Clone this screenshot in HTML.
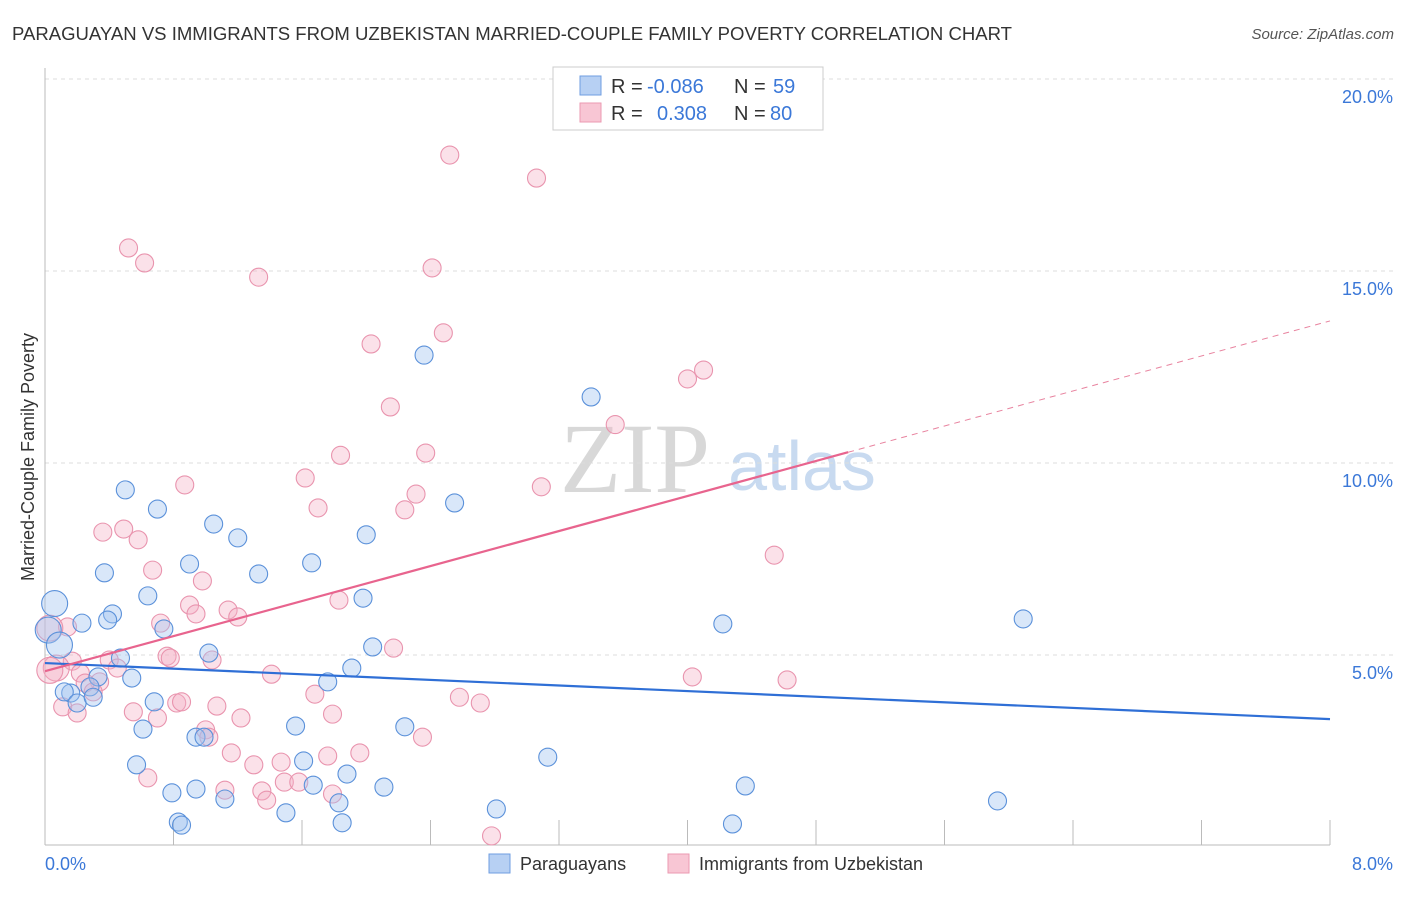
<!DOCTYPE html>
<html><head><meta charset="utf-8"><style>
body{margin:0;background:#fff;font-family:"Liberation Sans",sans-serif;}
</style></head><body>
<svg width="1406" height="892" xmlns="http://www.w3.org/2000/svg" font-family="Liberation Sans, sans-serif">
<text x="12" y="40" font-size="18" fill="#333" textLength="1000" lengthAdjust="spacingAndGlyphs">PARAGUAYAN VS IMMIGRANTS FROM UZBEKISTAN MARRIED-COUPLE FAMILY POVERTY CORRELATION CHART</text>
<text x="1394" y="39" font-size="15" fill="#555" text-anchor="end" font-style="italic">Source: ZipAtlas.com</text>
<text x="635" y="492" font-size="100" fill="#d8d8d8" text-anchor="middle" font-family="Liberation Serif, serif">ZIP</text>
<text x="802" y="490" font-size="70" fill="#c8daf0" text-anchor="middle">atlas</text>
<g id="grid"></g>
<g id="axes"></g>
<g id="marks"></g>
<text transform="translate(34,457) rotate(-90)" font-size="18" fill="#333" text-anchor="middle">Married-Couple Family Poverty</text>
<text x="45" y="870" font-size="18" fill="#3b78d8">0.0%</text>
<text x="1393" y="870" font-size="18" fill="#3b78d8" text-anchor="end">8.0%</text>
<g>
<rect x="553" y="67" width="270" height="63" fill="#fff" stroke="#ccc"/>
<rect x="580" y="76" width="21" height="19" fill="#b7d0f3" stroke="#6f9ee0"/>
<text y="93" font-size="20" fill="#333"><tspan x="611">R =</tspan><tspan x="647" fill="#3b78d8">-0.086</tspan><tspan x="734">N =</tspan><tspan x="773" fill="#3b78d8">59</tspan></text>
<rect x="580" y="103" width="21" height="19" fill="#f8c6d4" stroke="#eb9ab2"/>
<text y="120" font-size="20" fill="#333"><tspan x="611">R =</tspan><tspan x="657" fill="#3b78d8">0.308</tspan><tspan x="734">N =</tspan><tspan x="770" fill="#3b78d8">80</tspan></text>
</g>
<g>
<rect x="489" y="854" width="21" height="19" fill="#b7d0f3" stroke="#6f9ee0"/>
<text x="520" y="870" font-size="18" fill="#333">Paraguayans</text>
<rect x="668" y="854" width="21" height="19" fill="#f8c6d4" stroke="#eb9ab2"/>
<text x="699" y="870" font-size="18" fill="#333">Immigrants from Uzbekistan</text>
</g>
</svg>
<script>
const yTicks=[5,10,15,20];
const yTickLabels=["5.0%","10.0%","15.0%","20.0%"];
const blueX=[.06,.02,.09,.23,.42,.39,.37,.5,.7,.64,.74,1.05,1.2,.9,1.33,1.66,2.0,1.98,2.36,3.4,2.55,2.04,1.91,1.76,1.02,.47,.54,.33,.28,.16,.12,.2,.3,.68,.61,.94,.99,1.56,2.24,.57,1.61,1.88,.79,.94,1.12,1.67,1.83,1.5,.83,.85,1.85,3.13,2.81,2.11,4.22,6.09,4.36,4.28,5.93];
const blueY=[6.34,5.65,5.26,5.83,6.07,5.91,7.14,9.3,8.8,6.54,5.68,8.41,8.05,7.37,7.11,7.4,8.13,6.48,12.81,11.72,8.96,5.21,4.66,4.3,5.05,4.92,4.4,4.43,4.17,4.01,4.04,3.75,3.9,3.78,3.07,2.86,2.86,3.15,3.13,2.14,2.24,1.9,1.41,1.51,1.25,1.61,1.15,.89,.65,.57,.63,2.34,.99,1.56,5.81,5.94,1.59,.6,1.2];
const pinkX=[2.52,3.06,.52,.62,1.33,2.41,2.48,2.03,4.1,4.0,2.15,3.55,1.84,2.37,1.62,.87,3.09,2.31,1.7,2.24,.36,.49,.58,.67,4.54,.98,.9,.94,1.14,1.2,1.83,.72,.14,.03,2.17,.76,.78,1.04,.17,.4,.07,.03,.22,.34,.25,.45,1.41,4.03,4.62,.3,1.68,2.58,2.71,.82,.85,1.07,.11,.2,.55,.7,1.22,1.79,1.0,1.02,2.35,1.16,1.76,1.96,1.3,1.47,.64,1.12,1.35,1.38,1.49,1.58,1.79,2.78];
const pinkY=[18.02,17.42,15.6,15.21,14.84,15.08,13.39,13.1,12.42,12.19,11.46,11.0,10.2,10.26,9.61,9.43,9.38,9.19,8.83,8.78,8.2,8.28,8.0,7.21,7.6,6.93,6.3,6.07,6.17,5.99,6.43,5.83,5.73,5.7,5.18,4.97,4.92,4.87,4.84,4.87,4.66,4.6,4.53,4.3,4.27,4.66,4.5,4.43,4.35,4.04,3.98,3.9,3.75,3.75,3.78,3.67,3.65,3.49,3.52,3.36,3.36,3.46,3.05,2.86,2.86,2.45,2.37,2.45,2.14,2.21,1.8,1.48,1.46,1.22,1.69,1.69,1.38,.29];
const blueTrend=[4.79,3.33];
const pinkTrend=[4.58,13.7];
const xs=v=>45+v*1285/8, ys=v=>847-v*38.4;
const NS="http://www.w3.org/2000/svg";
function mk(t,a,p){const e=document.createElementNS(NS,t);for(const k in a)e.setAttribute(k,a[k]);p.appendChild(e);return e;}
const grid=document.getElementById('grid'),axes=document.getElementById('axes'),marks=document.getElementById('marks');
yTicks.forEach((t,i)=>{
 const l=mk('line',{x1:45,x2:1393,y1:ys(t),y2:ys(t),stroke:'#ddd','stroke-dasharray':'4,4'},grid);
 
 
 const tx=mk('text',{x:1393,y:ys(t)+24,'font-size':18,fill:'#3b78d8','text-anchor':'end'},grid);
 tx.textContent=yTickLabels[i];
 
 
});
const ya=mk('line',{x1:45,x2:45,y1:68,y2:845,stroke:'#bbb'},axes);


const xa=mk('line',{x1:45,x2:1330,y1:845,y2:845,stroke:'#bbb'},axes);


for(let i=0;i<=10;i++){const v=i*0.8;const t=mk('line',{x1:xs(v),x2:xs(v),y1:820,y2:845,stroke:'#bbb'},axes);
 
 }
function dots(X,Y,fill,stroke,name){X.forEach((x,i)=>{const big=x<0.1;
 const c=mk('circle',{cx:xs(x),cy:ys(Y[i]),r:big?13:9,fill:fill,stroke:stroke,'stroke-width':1.1},marks);
 
 });}
dots(pinkX,pinkY,'rgba(244,176,198,0.38)','#e994ae','point-uzbekistan');
dots(blueX,blueY,'rgba(160,194,240,0.40)','#5b91da','point-paraguayan');
const bt=mk('line',{x1:xs(0),y1:ys(blueTrend[0]),x2:xs(8),y2:ys(blueTrend[1]),stroke:'#2f6fd6','stroke-width':2.2},marks);


const slope=(pinkTrend[1]-pinkTrend[0])/8;
const pt=mk('line',{x1:xs(0),y1:ys(pinkTrend[0]),x2:xs(5),y2:ys(pinkTrend[0]+5*slope),stroke:'#e8648e','stroke-width':2.2},marks);


const pd=mk('line',{x1:xs(5),y1:ys(pinkTrend[0]+5*slope),x2:xs(8),y2:ys(pinkTrend[1]),stroke:'#e8839f','stroke-width':1,'stroke-dasharray':'6,5'},marks);


</script>
</body></html>
